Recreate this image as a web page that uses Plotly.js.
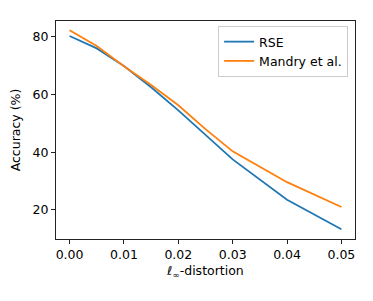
<!DOCTYPE html>
<html><head><meta charset="utf-8">
<script src="https://cdn.plot.ly/plotly-3.0.1.min.js"></script>
<style>html,body{margin:0;padding:0;background:#fff;}#plot{width:373px;height:301px;}</style>
</head><body><div id="plot"></div>
<script>
const distortion = [0, 0.005, 0.01, 0.015, 0.02, 0.025, 0.03, 0.04, 0.05];
const rse = [80.3, 76.0, 69.9, 62.5, 54.5, 46.0, 37.5, 23.5, 13.3];
const mandry = [82.3, 76.8, 69.8, 63.3, 56.3, 48.0, 40.3, 29.6, 21.0];
const xTicks = [0, 0.01, 0.02, 0.03, 0.04, 0.05];
const xTickText = ['0.00', '0.01', '0.02', '0.03', '0.04', '0.05'];
const yTicks = [20, 40, 60, 80];

const traces = [
  {x: distortion, y: rse, name: 'RSE', mode: 'lines', line: {color: '#1f77b4', width: 1.8}},
  {x: distortion, y: mandry, name: 'Mandry et al.', mode: 'lines', line: {color: '#ff7f0e', width: 1.8}}
];
const axisCommon = {
  showline: true, mirror: true, linecolor: '#222', linewidth: 1,
  ticks: 'outside', ticklen: 4, tickwidth: 1, tickcolor: '#222',
  showgrid: false, zeroline: false,
  tickfont: {family: 'DejaVu Sans', size: 12.5, color: '#000'}
};
const layout = {
  width: 373, height: 301,
  margin: {l: 56, r: 18, t: 21, b: 62},
  paper_bgcolor: '#fff', plot_bgcolor: '#fff',
  font: {family: 'DejaVu Sans', size: 12.5, color: '#000'},
  showlegend: true,
  legend: {x: 0.977, y: 0.977, xanchor: 'right', yanchor: 'top',
    bordercolor: '#ccc', borderwidth: 1, bgcolor: 'rgba(255,255,255,0.8)',
    itemwidth: 30, tracegroupgap: 0,
    font: {family: 'DejaVu Sans', size: 12.5, color: '#000'}},
  xaxis: Object.assign({}, axisCommon, {
    range: [-0.0025, 0.0525], tickvals: xTicks, ticktext: xTickText,
    title: {text: '<i>ℓ</i><sub>∞</sub>-distortion', font: {family: 'DejaVu Sans', size: 12.5}, standoff: 5}
  }),
  yaxis: Object.assign({}, axisCommon, {
    range: [9.9, 85.5], tickvals: yTicks,
    title: {text: 'Accuracy (%)', font: {family: 'DejaVu Sans', size: 12.5}, standoff: 9}
  })
};
Plotly.newPlot('plot', traces, layout, {displayModeBar: false, staticPlot: true});
</script></body></html>
